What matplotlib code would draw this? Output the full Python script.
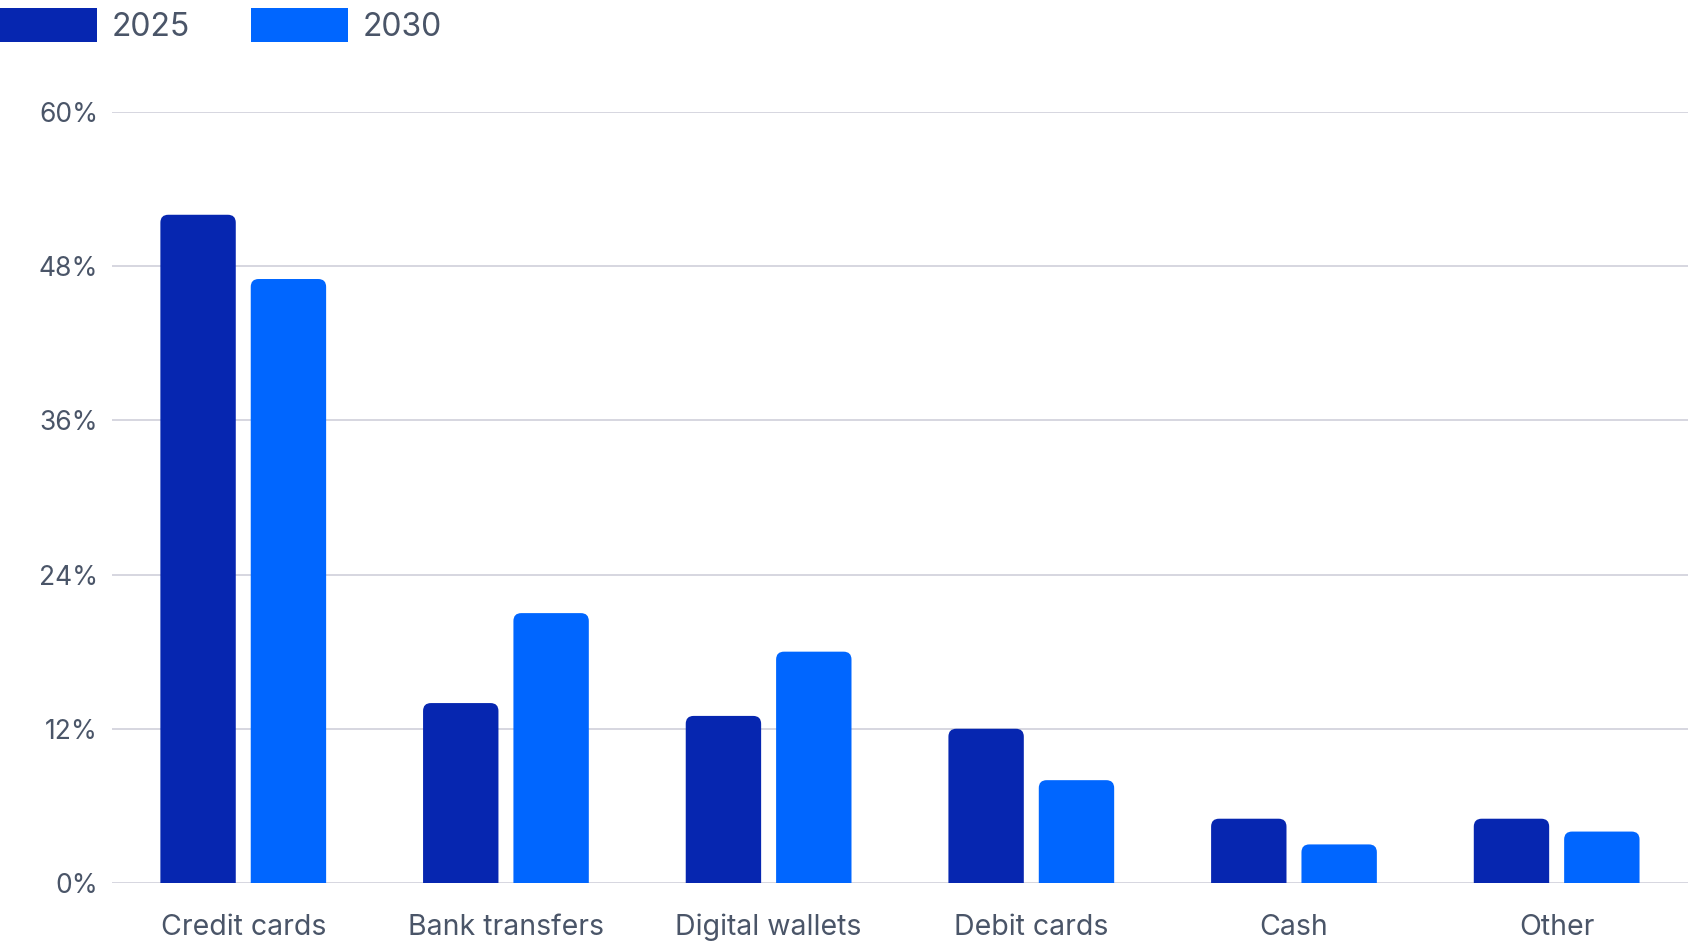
import numpy as np
import matplotlib
matplotlib.use("Agg")
import matplotlib.pyplot as plt
from matplotlib.patches import FancyBboxPatch, Patch
from matplotlib.ticker import FuncFormatter

plt.rcParams["font.family"] = ["Inter", "DejaVu Sans"]

categories = ["Credit cards", "Bank transfers", "Digital wallets", "Debit cards", "Cash", "Other"]
share_2025 = [52, 14, 13, 12, 5, 5]
share_2030 = [47, 21, 18, 8, 3, 4]
series = ["2025", "2030"]
yticks = [0, 12, 24, 36, 48, 60]

C25 = "#0626B0"
C30 = "#0066FF"
TXT = "#4A5568"
GRID = "#D3D3DD"

fig = plt.figure(figsize=(16.88, 9.48), dpi=100)
ax = fig.add_axes([0.0663, 0.0686, 0.9337, 0.8133])

x = np.arange(len(categories))
w = 0.287
off = 0.172
# px per unit ~ 262 in x, ~12.85 px per % in y
aspect = (262 / 12.85)

for vals, dx, col in [(share_2025, -off, C25), (share_2030, off, C30)]:
    for xi, v in zip(x, vals):
        p = FancyBboxPatch((xi + dx - w / 2, -2), w, v + 2,
                           boxstyle="round,pad=0,rounding_size=0.03",
                           mutation_aspect=aspect, fc=col, ec="none",
                           zorder=3, clip_on=True)
        ax.add_patch(p)

ax.set_xlim(-0.5, len(categories) - 0.5)
ax.set_ylim(0, 60)
ax.set_yticks(yticks)
ax.yaxis.set_major_formatter(FuncFormatter(lambda v, _: f"{v:.0f}%"))
ax.set_xticks(x, categories)
ax.grid(axis="y", color=GRID, linewidth=1.3, zorder=0)
ax.set_axisbelow(True)
for s in ax.spines.values():
    s.set_visible(False)
ax.tick_params(axis="both", length=0, colors=TXT)
ax.tick_params(axis="y", labelsize=19, pad=10)
ax.tick_params(axis="x", labelsize=20.5, pad=22)
for lab in ax.get_yticklabels():
    lab.set_clip_on(False)

handles = [Patch(fc=C25, ec="none"), Patch(fc=C30, ec="none")]
leg = fig.legend(handles, series, loc="upper left", bbox_to_anchor=(0.0, 0.992),
                 ncol=2, frameon=False, fontsize=23, handlelength=3.05, handleheight=1.3,
                 handletextpad=0.45, columnspacing=1.9, borderpad=0, borderaxespad=0,
                 labelcolor=TXT)

fig.savefig("out.png", dpi=100)
